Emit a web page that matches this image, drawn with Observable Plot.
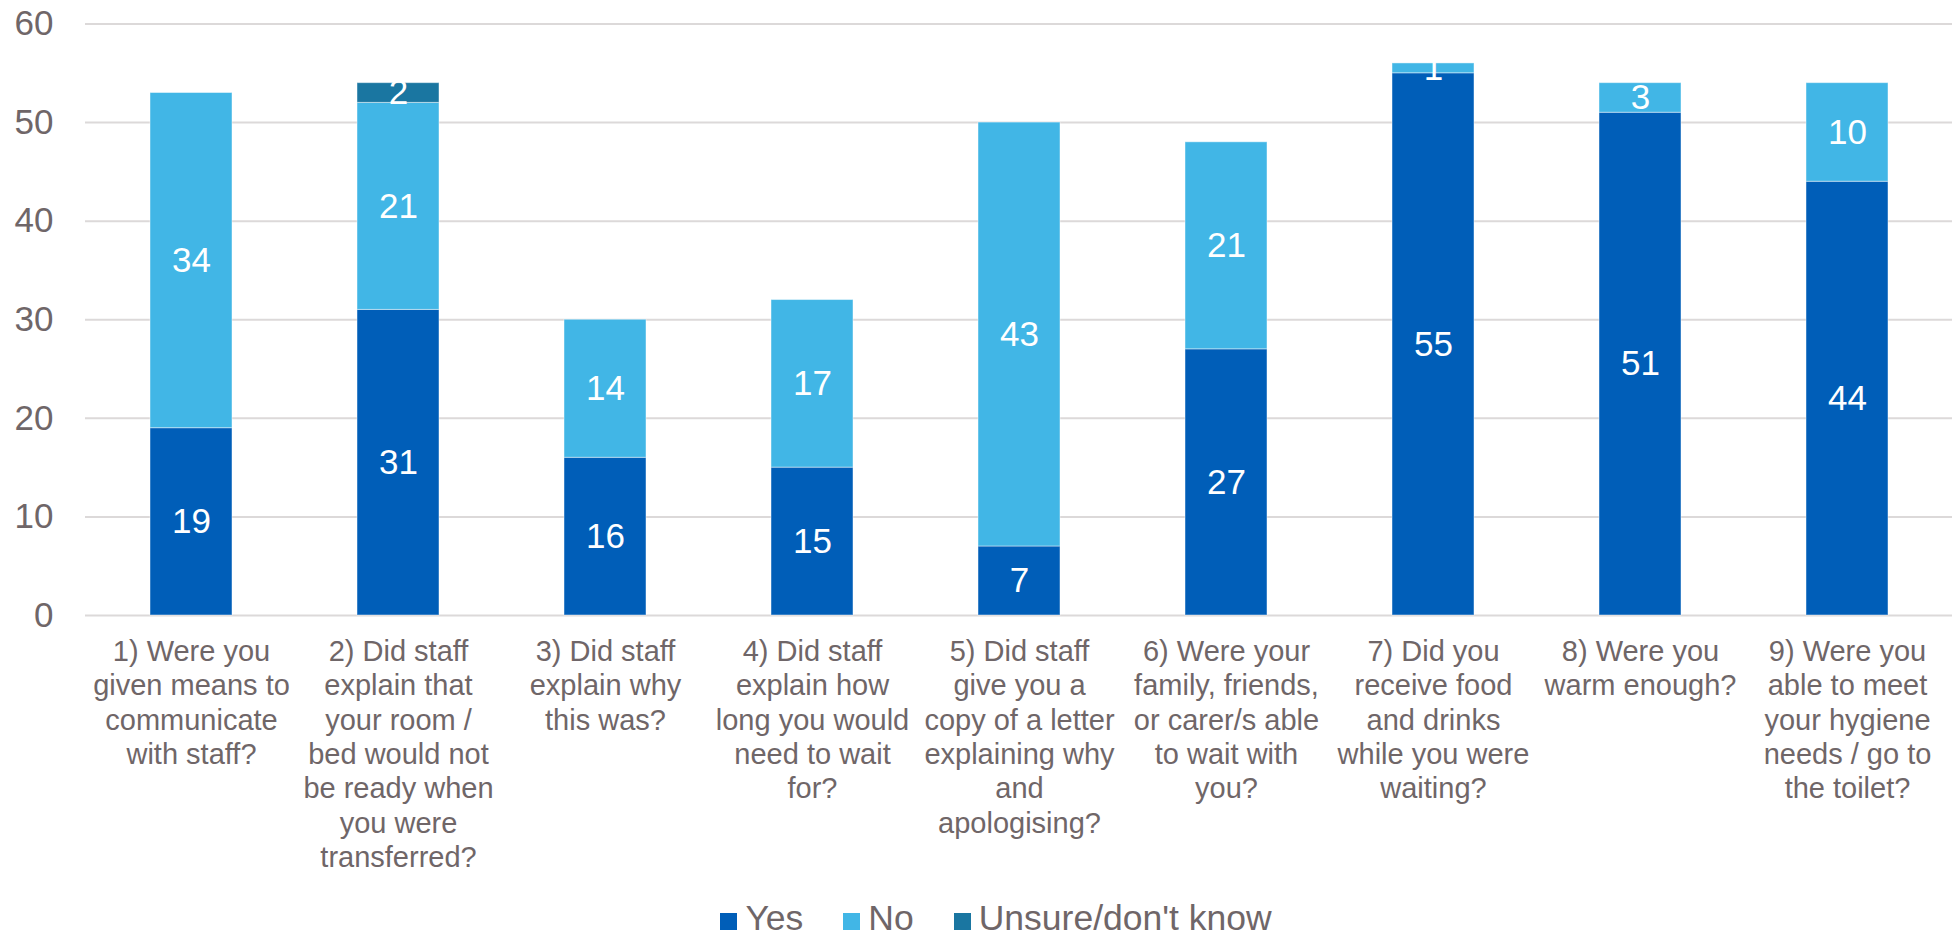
<!DOCTYPE html>
<html>
<head>
<meta charset="utf-8">
<script src="https://cdn.jsdelivr.net/npm/d3@7"></script>
<script src="https://cdn.jsdelivr.net/npm/@observablehq/plot@0.6"></script>
<style>
  html, body { margin: 0; padding: 0; background: #fff; }
  body { font-family: "Liberation Sans", Arial, sans-serif; width: 1952px; height: 938px; position: relative; overflow: hidden; }
  #legend { position: absolute; left: 0; top: 901px; width: 1952px; box-sizing: border-box; padding-left: 40px;
            display: flex; justify-content: center; font-size: 35.5px; line-height: 1; color: #6f6668; white-space: nowrap; }
  #legend .item { margin: 0 20px; }
  #legend .sw { display: inline-block; width: 17px; height: 17px; margin-right: 8px; vertical-align: baseline; }
</style>
</head>
<body>
<div id="chart"></div>
<div id="legend"></div>
<script>
const questions = ["1", "2", "3", "4", "5", "6", "7", "8", "9"];
const questionLabels = [
  "1) Were you\ngiven means to\ncommunicate\nwith staff?",
  "2) Did staff\nexplain that\nyour room /\nbed would not\nbe ready when\nyou were\ntransferred?",
  "3) Did staff\nexplain why\nthis was?",
  "4) Did staff\nexplain how\nlong you would\nneed to wait\nfor?",
  "5) Did staff\ngive you a\ncopy of a letter\nexplaining why\nand\napologising?",
  "6) Were your\nfamily, friends,\nor carer/s able\nto wait with\nyou?",
  "7) Did you\nreceive food\nand drinks\nwhile you were\nwaiting?",
  "8) Were you\nwarm enough?",
  "9) Were you\nable to meet\nyour hygiene\nneeds / go to\nthe toilet?"
];
const seriesNames = ["Yes", "No", "Unsure/don't know"];
const yesValues = [19, 31, 16, 15, 7, 27, 55, 51, 44];
const noValues = [34, 21, 14, 17, 43, 21, 1, 3, 10];
const unsureValues = [0, 2, 0, 0, 0, 0, 0, 0, 0];
const seriesColors = ["#005EB8", "#41B6E6", "#1A76A1"];
const yTicks = [0, 10, 20, 30, 40, 50, 60];

const textColor = "#6f6668";
const fontFamily = '"Liberation Sans", Arial, sans-serif';

const seriesValues = [yesValues, noValues, unsureValues];
const data = [];
questions.forEach((q, i) => {
  seriesNames.forEach((s, j) => {
    data.push({q, series: s, value: seriesValues[j][i]});
  });
});
const labelOf = new Map(questions.map((q, i) => [q, questionLabels[i]]));

const chart = Plot.plot({
  width: 1952,
  height: 890,
  marginLeft: 85,
  marginRight: 0,
  marginTop: 23.5,
  marginBottom: 275,
  style: {fontFamily, background: "white", overflow: "visible"},
  x: {domain: questions, paddingInner: 0.605, paddingOuter: 0.3025, axis: null},
  y: {domain: [0, 60], axis: null},
  color: {domain: seriesNames, range: seriesColors},
  marks: [
    Plot.ruleY(yTicks, {stroke: "#dcd9d9", strokeWidth: 2}),
    Plot.barY(data, Plot.stackY({order: seriesNames}, {
      x: "q", y: "value", z: "series", fill: "series",
      stroke: "white", strokeOpacity: 0.45, strokeWidth: 1
    })),
    Plot.text(data, Plot.stackY({order: seriesNames}, {
      x: "q", y: "value", z: "series",
      filter: d => d.value > 0,
      text: d => String(d.value),
      fill: "white", fontSize: 35
    })),
    Plot.axisY({ticks: yTicks, tickSize: 0, tickPadding: 32, fontSize: 35, fill: textColor, label: null}),
    Plot.axisX({tickSize: 0, tickPadding: 21, fontSize: 29, lineHeight: 1.186, fill: textColor,
                tickFormat: d => labelOf.get(d), label: null})
  ]
});
document.getElementById("chart").appendChild(chart);

const legend = document.getElementById("legend");
seriesNames.forEach((s, i) => {
  const item = document.createElement("span");
  item.className = "item";
  const sw = document.createElement("span");
  sw.className = "sw";
  sw.style.background = seriesColors[i];
  item.appendChild(sw);
  item.appendChild(document.createTextNode(s));
  legend.appendChild(item);
});
</script>
</body>
</html>
